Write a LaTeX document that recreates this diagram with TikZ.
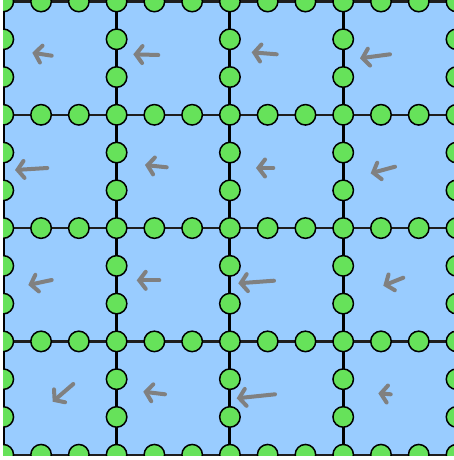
\documentclass[tikz,border=0pt]{standalone}
\usetikzlibrary{arrows.meta}
\definecolor{cellblue}{RGB}{153,204,255}
\definecolor{dotgreen}{RGB}{102,226,90}
\definecolor{arrgray}{RGB}{128,128,128}
\definecolor{hline}{RGB}{30,30,30}
\tikzset{
  vline/.style={black,line width=3pt},
  hlinestyle/.style={hline,line width=2.2pt},
  gdot/.style={circle,draw=black,fill=dotgreen,line width=1.5pt,minimum size=20.5pt,inner sep=0pt},
  flowarrow/.style={arrgray,line width=4pt,line cap=round,-{Straight Barb[length=6.5pt,width=17pt,line cap=round]}}
}
\begin{document}
\begin{tikzpicture}[x=1pt,y=-1pt]
\useasboundingbox (0,0) rectangle (454,460);
\fill[white] (0,0) rectangle (454,460);
\begin{scope}
\clip (3,0) rectangle (454,455.5);
\def\S{113.3}
\fill[cellblue] (3.3,1.5) rectangle (456.5,454.7);
% grid lines
\foreach \j in {0,...,4}{
  \draw[hlinestyle] (3.3,1.5+\j*\S) -- (456.5,1.5+\j*\S);
}
\foreach \i in {0,...,4}{
  \draw[vline] (3.3+\i*\S,1.5) -- (3.3+\i*\S,454.7);
}
% arrows (tail -> head)
\coordinate (t00) at (51.7,55.7);  \coordinate (h00) at (32.3,52.7);
\coordinate (t10) at (158.3,55);   \coordinate (h10) at (133.3,54.3);
\coordinate (t20) at (276.7,54.3); \coordinate (h20) at (251.7,52.3);
\coordinate (t30) at (390,54.3);   \coordinate (h30) at (360,58.3);
\coordinate (t01) at (47.3,168);   \coordinate (h01) at (15,170);
\coordinate (t11) at (166.7,167.3);\coordinate (h11) at (145,165);
\coordinate (t21) at (273.3,168);  \coordinate (h21) at (256,168);
\coordinate (t31) at (395,166.7);  \coordinate (h31) at (370.7,173.3);
\coordinate (t02) at (51.7,280);   \coordinate (h02) at (28.3,285);
\coordinate (t12) at (159.3,280.3);\coordinate (h12) at (136.7,280.3);
\coordinate (t22) at (274,280.7);  \coordinate (h22) at (238.3,283.3);
\coordinate (t32) at (403.3,277.7);\coordinate (h32) at (383.3,285.7);
\coordinate (t03) at (73.3,384);   \coordinate (h03) at (52.7,401.7);
\coordinate (t13) at (165,394.3);  \coordinate (h13) at (143.3,391.7);
\coordinate (t23) at (275,394.3);  \coordinate (h23) at (236.7,398.3);
\coordinate (t33) at (390.7,394.3);\coordinate (h33) at (378.3,393.3);
\foreach \a in {00,10,20,30,01,11,21,31,02,12,22,32,03,13,23,33}{
  \draw[flowarrow] (t\a) -- (h\a);
}
% dots at vertices
\foreach \i in {0,...,4}{
  \foreach \j in {0,...,4}{
    \node[gdot] (v\i\j) at (3.3+\i*\S,1.5+\j*\S) {};
  }
}
% dots on horizontal edges
\foreach \i in {0,...,3}{
  \foreach \j in {0,...,4}{
    \foreach \k in {1,2}{
      \node[gdot] (h\i\j\k) at (3.3+\i*\S+\k*\S/3,1.5+\j*\S) {};
    }
  }
}
% dots on vertical edges
\foreach \i in {0,...,4}{
  \foreach \j in {0,...,3}{
    \foreach \k in {1,2}{
      \node[gdot] (e\i\j\k) at (3.3+\i*\S,1.5+\j*\S+\k*\S/3) {};
    }
  }
}
\end{scope}
\end{tikzpicture}
\end{document}
